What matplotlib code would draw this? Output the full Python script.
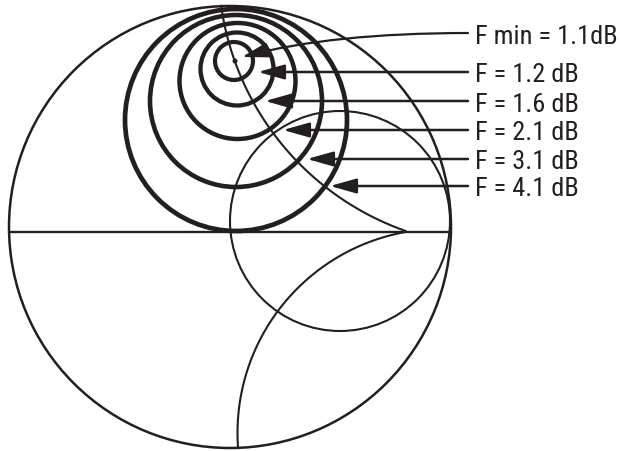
import numpy as np
import matplotlib
matplotlib.use("Agg")
import matplotlib.pyplot as plt
from matplotlib import font_manager
from matplotlib.patches import Circle

# ---- data (pixel-space geometry of the diagram) ----
noise_labels = ["F = 1.2 dB", "F = 1.6 dB", "F = 2.1 dB", "F = 3.1 dB", "F = 4.1 dB"]
noise_cx = [234, 237, 237.5, 236, 236]
noise_cy = [62, 70, 82, 102, 121]
noise_r = [19, 36.5, 58, 86, 111]
noise_lw = [3.0, 3.1, 3.2, 3.3, 3.4]

fmin_label = "F min = 1.1dB"
fmin_point = (235, 62)
fmin_tip = (242, 58)

label_y = [34, 73, 102, 131, 160, 187]
arrow_tip_x = [258, 265, 283, 307, 330]

# Smith-chart frame
outer = (230, 228, 221)           # cx, cy, r
r_circle = (340, 222, 110)
axis_y, axis_x0, axis_x1 = 233, 9, 451
upper_arc = (498.4, -32.2, 280, 172.0, 109.4)   # cx, cy, R, theta1, theta2
lower_arc = (441.5, 433.8, 204, 175.7, 259.7)

INK = "#231f20"

avail = {f.name for f in font_manager.fontManager.ttflist}
fam = [f for f in ["Liberation Sans Narrow", "Roboto Condensed", "DejaVu Sans"] if f in avail]
plt.rcParams['font.family'] = fam

fig = plt.figure(figsize=(6.2, 4.52), dpi=100)
ax = fig.add_axes([0, 0, 1, 1])
ax.set_xlim(0, 620)
ax.set_ylim(452, 0)
ax.axis('off')

# outer circle
ax.add_patch(Circle(outer[:2], outer[2], fill=False, lw=1.8, ec=INK))
# r = 1 circle
ax.add_patch(Circle(r_circle[:2], r_circle[2], fill=False, lw=1.5, ec=INK))
# horizontal axis
ax.plot([axis_x0, axis_x1], [axis_y, axis_y], color=INK, lw=1.7, solid_capstyle='butt')

# reactance arcs
for cx, cy, R, t1, t2 in (upper_arc, lower_arc):
    th = np.radians(np.linspace(t1, t2, 200))
    ax.plot(cx + R * np.cos(th), cy + R * np.sin(th), color=INK, lw=1.5)

# noise circles
for cx, cy, r, lw in zip(noise_cx, noise_cy, noise_r, noise_lw):
    ax.add_patch(Circle((cx, cy), r, fill=False, lw=lw, ec=INK))

# Fmin dot
ax.add_patch(Circle(fmin_point, 2.5, fc=INK, ec='none'))

astyle = '-|>,head_length=1.6,head_width=0.45'
x_start = 468
text_x = 475
cap_half = 9.5

# Fmin arrow (curved)
ax.annotate('', xy=fmin_tip, xytext=(x_start, label_y[0]),
            arrowprops=dict(arrowstyle=astyle, mutation_scale=10, lw=1.6, color=INK,
                            shrinkA=0, shrinkB=0,
                            connectionstyle='angle3,angleA=0,angleB=15'))
ax.text(text_x, label_y[0] + cap_half, fmin_label, fontsize=19, color=INK,
        ha='left', va='baseline')

for lab, y, tx in zip(noise_labels, label_y[1:], arrow_tip_x):
    ax.annotate('', xy=(tx, y), xytext=(x_start, y),
                arrowprops=dict(arrowstyle=astyle, mutation_scale=10, lw=1.8, color=INK,
                                shrinkA=0, shrinkB=0))
    ax.text(text_x, y + cap_half, lab, fontsize=19, color=INK, ha='left', va='baseline')

fig.savefig('out.png', dpi=100)
